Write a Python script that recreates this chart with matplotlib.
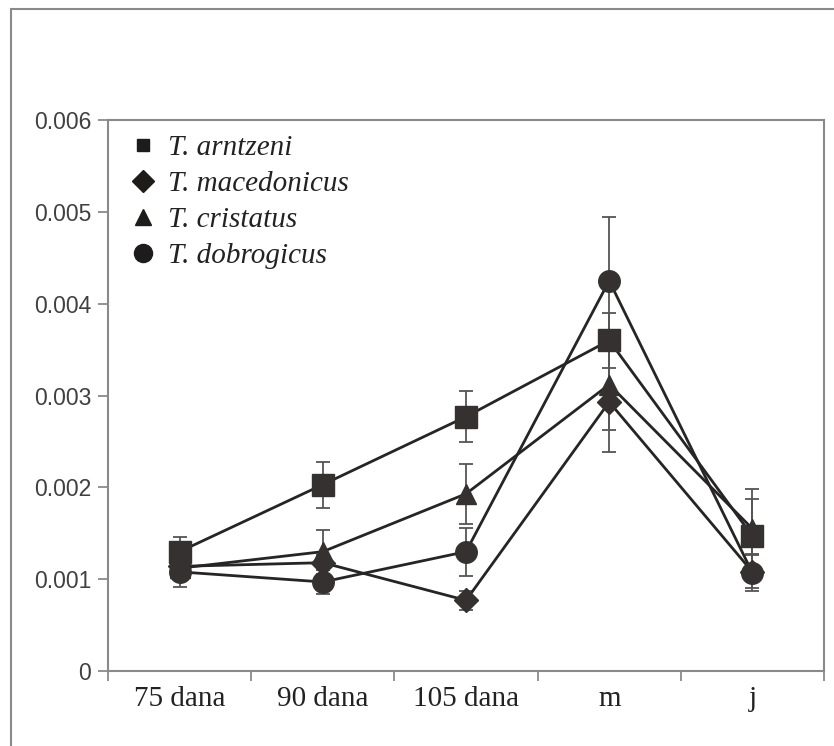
import numpy as np
import matplotlib.pyplot as plt
from matplotlib.patches import Rectangle

# sampling points
cats = ['75 dana', '90 dana', '105 dana', 'm', 'j']

# mean values and errors
arntzeni = [0.00130, 0.00203, 0.00277, 0.00360, 0.00147]
arntzeni_err = [0.00016, 0.00025, 0.00028, 0.00030, 0.00040]
macedonicus = [0.00114, 0.00118, 0.00077, 0.00293, 0.00108]
macedonicus_err = [0.00012, 0.00008, 0.00010, 0.00055, 0.00018]
cristatus = [0.00112, 0.00130, 0.00193, 0.00312, 0.00155]
cristatus_err = [0.00010, 0.00024, 0.00033, 0.00050, 0.00043]
dobrogicus = [0.00108, 0.00097, 0.00130, 0.00425, 0.00107]
dobrogicus_err = [0.00017, 0.00013, 0.00026, 0.00070, 0.00020]

species = ['T. arntzeni', 'T. macedonicus', 'T. cristatus', 'T. dobrogicus']
markers = ['s', 'D', '^', 'o']
msizes = [15.5, 12, 15, 15.5]
leg_sizes = [9, 11, 12, 13]

fill = '#353130'
grey = '#8a8a8a'

fig = plt.figure(figsize=(8.34, 7.46), dpi=100)
ax = fig.add_axes([0.1295, 0.1005, 0.8585, 0.7385])

# outer frame
fig.patches.append(Rectangle((0.013, -0.05), 1.2, 1.038, transform=fig.transFigure,
                             fill=False, edgecolor=grey, linewidth=1.5))

x = np.arange(len(cats))
data = [(arntzeni, arntzeni_err), (macedonicus, macedonicus_err),
        (cristatus, cristatus_err), (dobrogicus, dobrogicus_err)]
for (y, e), m, ms in zip(data, markers, msizes):
    ax.errorbar(x, y, yerr=e, fmt='none', ecolor='#555555', elinewidth=1.3,
                capsize=5, capthick=1.3, zorder=2)
    ax.plot(x, y, '-', color='#262424', linewidth=2.0, marker=m, markersize=ms,
            markerfacecolor=fill, markeredgecolor=fill, zorder=3)

ax.set_xlim(-0.5, 4.5)
ax.set_ylim(0, 0.006)
ax.set_yticks(np.arange(0, 0.0061, 0.001))
ax.set_yticklabels(['0', '0.001', '0.002', '0.003', '0.004', '0.005', '0.006'],
                   family='Liberation Sans', fontsize=16.5, color='#404040')
ax.set_xticks(np.arange(-0.5, 4.6, 1.0))
ax.set_xticklabels([])
ax.set_xticks(x, minor=True)
ax.set_xticklabels(cats, minor=True, family='Liberation Serif', fontsize=21, color='#222222')
ax.tick_params(axis='x', which='minor', length=0, pad=11)
ax.tick_params(axis='both', which='major', length=7, width=1.3, color=grey, direction='out')
ax.tick_params(axis='y', pad=5)
for s in ax.spines.values():
    s.set_color(grey)
    s.set_linewidth(1.5)

handles = [plt.Line2D([], [], linestyle='none', marker=m, markersize=ls,
                      markerfacecolor='#1e1b1b', markeredgecolor='#1e1b1b')
           for m, ls in zip(markers, leg_sizes)]
leg = ax.legend(handles, species, loc='upper left', frameon=False,
                prop={'family': 'Liberation Serif', 'style': 'italic', 'size': 21},
                handletextpad=0.25, labelspacing=0.33, borderaxespad=0.2,
                handlelength=1.2, bbox_to_anchor=(0.0, 1.005))
for t in leg.get_texts():
    t.set_color('#222222')

fig.savefig('out.png', dpi=100)
